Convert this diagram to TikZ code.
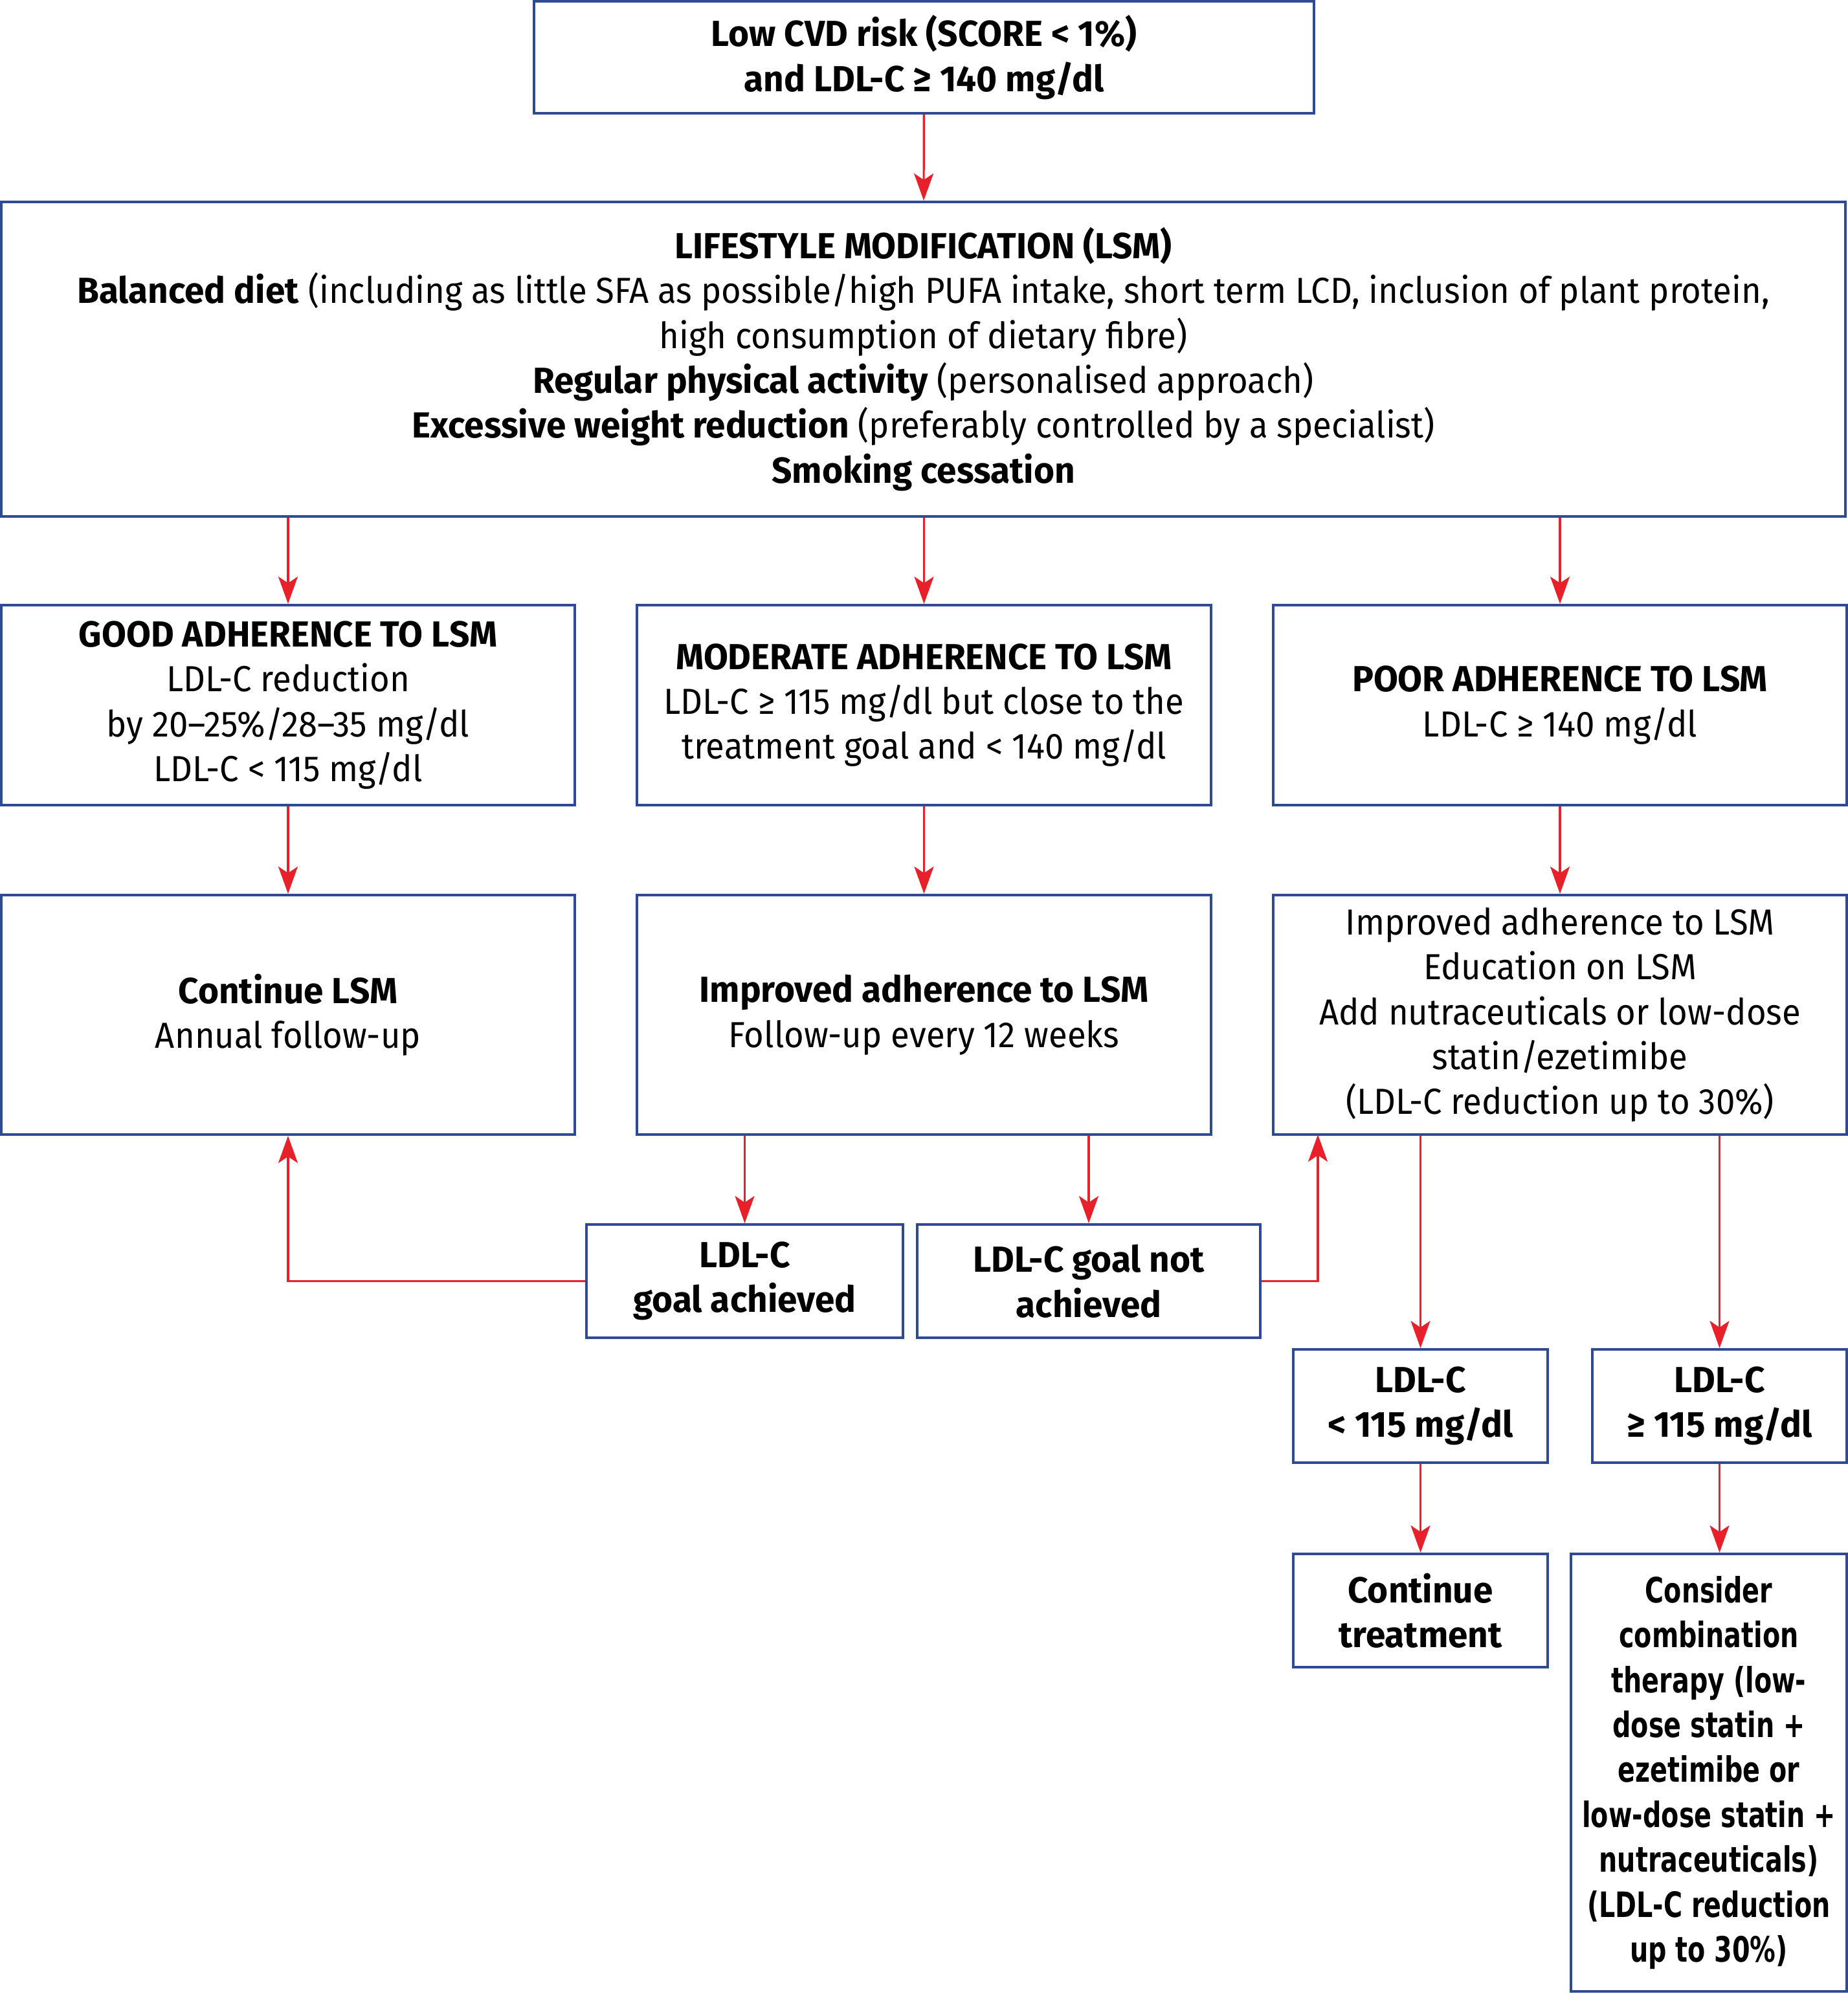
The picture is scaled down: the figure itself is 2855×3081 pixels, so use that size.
\documentclass[tikz,border=0pt]{standalone}
\usepackage{fontspec}
\setmainfont{Fira Sans}[FakeStretch=0.94, BoldFeatures={FakeStretch=0.98}]
\newfontfamily\consfont{DejaVu Sans}[FakeStretch=0.735]
\usetikzlibrary{arrows.meta}
\definecolor{bdr}{HTML}{2E4A94}
\definecolor{arw}{HTML}{E8202A}
\tikzset{
  bx/.style={draw=bdr, line width=1pt, align=center, inner sep=0pt,
             font=\fontsize{14}{17.35}\selectfont},
  sz/.style 2 args={minimum width=#1*0.25pt, minimum height=#2*0.25pt},
  arr/.style={draw=arw, line width=0.8pt, -{Stealth[length=10.5pt,width=7.5pt,inset=2.5pt]}}
}
\begin{document}
\begin{tikzpicture}[x=0.25pt,y=-0.25pt]
\useasboundingbox (0,0) rectangle (2855,3081);

\node[bx, sz={1205}{173}] (top) at (1427.5,88.5)
  {\bfseries Low CVD risk (SCORE < 1\%)\\ \bfseries and LDL-C ≥ 140 mg/dl};

\node[bx, sz={2849}{486}] (lsm) at (1426.5,555)
  {\textbf{LIFESTYLE MODIFICATION (LSM)}\\
   \textbf{Balanced diet} (including as little SFA as possible/high PUFA intake, short term LCD, inclusion of plant protein,\\
   high consumption of dietary fibre)\\
   \textbf{Regular physical activity} (personalised approach)\\
   \textbf{Excessive weight reduction} (preferably controlled by a specialist)\\
   \textbf{Smoking cessation}};

\node[bx, sz={886}{309}] (good) at (445,1089.5)
  {\textbf{GOOD ADHERENCE TO LSM}\\ LDL-C reduction\\ by 20–25\%/28–35 mg/dl\\ LDL-C < 115 mg/dl};
\node[bx, sz={887}{309}] (mod) at (1427.5,1089.5)
  {\textbf{MODERATE ADHERENCE TO LSM}\\ LDL-C ≥ 115 mg/dl but close to the\\ treatment goal and < 140 mg/dl};
\node[bx, sz={886}{309}] (poor) at (2410,1089.5)
  {\textbf{POOR ADHERENCE TO LSM}\\ LDL-C ≥ 140 mg/dl};

\node[bx, sz={886}{370}] (cont) at (445,1568)
  {\textbf{Continue LSM}\\ Annual follow-up};
\node[bx, sz={887}{370}] (impr) at (1427.5,1568)
  {\textbf{Improved adherence to LSM}\\ Follow-up every 12 weeks};
\node[bx, sz={886}{370}] (poorf) at (2410,1568)
  {Improved adherence to LSM\\ Education on LSM\\ Add nutraceuticals or low-dose\\ statin/ezetimibe\\ (LDL-C reduction up to 30\%)};

\node[bx, sz={489}{175}] (ach) at (1150.5,1979.5)
  {\bfseries LDL-C\\ \bfseries goal achieved};
\node[bx, sz={530}{175}] (nach) at (1682,1979.5)
  {\bfseries LDL-C goal not\\ \bfseries achieved};

\node[bx, sz={393}{175}] (lt) at (2194.5,2172.5)
  {\bfseries LDL-C\\ \bfseries < 115 mg/dl};
\node[bx, sz={393}{175}] (ge) at (2656.5,2172.5)
  {\bfseries LDL-C\\ \bfseries ≥ 115 mg/dl};

\node[bx, sz={393}{175}] (ct) at (2194.5,2488.5)
  {\bfseries Continue\\ \bfseries treatment};
\node[bx, sz={426}{676}, font=\consfont\bfseries\fontsize{13.5}{17.35}\selectfont] (cons) at (2640,2739)
  {Consider\\ combination\\ therapy (low-\\ dose statin +\\ ezetimibe or\\ low-dose statin +\\ nutraceuticals)\\ (LDL-C reduction\\ up to 30\%)};

\coordinate (j) at (2036,1753);

\draw[arr] (top) -- (lsm);
\draw[arr] (lsm.south -| good.north) -- (good.north);
\draw[arr] (lsm.south -| mod.north) -- (mod.north);
\draw[arr] (lsm.south -| poor.north) -- (poor.north);
\draw[arr] (good) -- (cont);
\draw[arr] (mod) -- (impr);
\draw[arr] (poor) -- (poorf);
\draw[arr] (impr.south -| ach.north) -- (ach.north);
\draw[arr] (impr.south -| nach.north) -- (nach.north);
\draw[arr] (ach.west) -| (cont.south);
\draw[arr] (nach.east) -| (j);
\draw[arr] (poorf.south -| lt.north) -- (lt.north);
\draw[arr] (poorf.south -| ge.north) -- (ge.north);
\draw[arr] (lt) -- (ct);
\draw[arr] (ge.south) -- (ge.south |- cons.north);
\end{tikzpicture}
\end{document}
